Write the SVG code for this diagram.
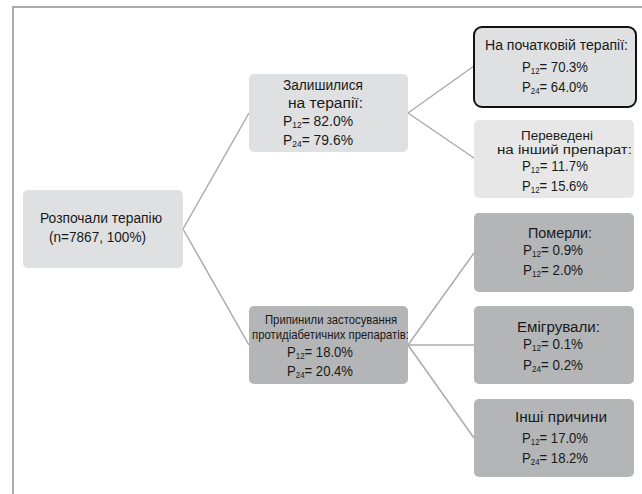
<svg xmlns="http://www.w3.org/2000/svg" width="642" height="494" viewBox="0 0 642 494">
<style>
.frame{fill:none;stroke:#ababab;stroke-width:2}
.conn{fill:none;stroke:#ababab;stroke-width:1.5}
.light{fill:#dfe0e1}
.lighter{fill:#e7e7e8}
.dark{fill:#b3b5b7}
.hl{fill:#dfe0e1;stroke:#111;stroke-width:2}
text{font-family:"Liberation Sans",Arial,sans-serif;font-size:14px;fill:#1a1a1a}
.n{font-size:13px}
.t{font-size:12.5px}
.s{font-size:8.5px}
</style>
<rect width="642" height="494" fill="#fff"/>
<path class="frame" d="M13,494 V7 H642"/>
<g id="connectors">
<line class="conn" x1="183" y1="229" x2="249" y2="113"/>
<line class="conn" x1="183" y1="229" x2="249" y2="345"/>
<line class="conn" x1="408" y1="113" x2="474" y2="66"/>
<line class="conn" x1="408" y1="113" x2="474" y2="158"/>
<line class="conn" x1="408" y1="345" x2="474" y2="253"/>
<line class="conn" x1="408" y1="345" x2="474" y2="345"/>
<line class="conn" x1="408" y1="345" x2="474" y2="438"/>
</g>
<g id="start">
<rect class="light" x="23" y="190" width="160" height="78" rx="5"/>
<text x="40" y="223" textLength="122" lengthAdjust="spacingAndGlyphs">Розпочали терапію</text>
<text x="49" y="242" textLength="97" lengthAdjust="spacingAndGlyphs">(n=7867, 100%)</text>
</g>
<g id="remained">
<rect class="light" x="249" y="74" width="159" height="78" rx="5"/>
<text x="283" y="90" textLength="80" lengthAdjust="spacingAndGlyphs">Залишилися</text>
<text x="288" y="108" textLength="75" lengthAdjust="spacingAndGlyphs">на терапії:</text>
<text x="283" y="126" textLength="70" lengthAdjust="spacingAndGlyphs">P<tspan class="s" dy="2">12</tspan><tspan dy="-2">= 82.0%</tspan></text>
<text x="283" y="145" textLength="70" lengthAdjust="spacingAndGlyphs">P<tspan class="s" dy="2">24</tspan><tspan dy="-2">= 79.6%</tspan></text>
</g>
<g id="stopped">
<rect class="dark" x="249" y="306" width="159" height="78" rx="5"/>
<text class="n" x="265" y="324" textLength="132" lengthAdjust="spacingAndGlyphs">Припинили застосування</text>
<text class="n" x="252" y="339" textLength="157" lengthAdjust="spacingAndGlyphs">протидіабетичних препаратів:</text>
<text x="287" y="357" textLength="66" lengthAdjust="spacingAndGlyphs">P<tspan class="s" dy="2">12</tspan><tspan dy="-2">= 18.0%</tspan></text>
<text x="287" y="376" textLength="66" lengthAdjust="spacingAndGlyphs">P<tspan class="s" dy="2">24</tspan><tspan dy="-2">= 20.4%</tspan></text>
</g>
<g id="initial">
<rect class="hl" x="474" y="27" width="162" height="80" rx="8"/>
<text x="485" y="50" textLength="143" lengthAdjust="spacingAndGlyphs">На початковій терапії:</text>
<text x="522" y="72" textLength="66" lengthAdjust="spacingAndGlyphs">P<tspan class="s" dy="2">12</tspan><tspan dy="-2">= 70.3%</tspan></text>
<text x="522" y="92" textLength="66" lengthAdjust="spacingAndGlyphs">P<tspan class="s" dy="2">24</tspan><tspan dy="-2">= 64.0%</tspan></text>
</g>
<g id="switched">
<rect class="lighter" x="474" y="120" width="160" height="78" rx="5"/>
<text class="t" x="521" y="140" textLength="72" lengthAdjust="spacingAndGlyphs">Переведені</text>
<text class="t" x="497" y="154" textLength="135" lengthAdjust="spacingAndGlyphs">на інший препарат:</text>
<text x="522" y="171" textLength="66" lengthAdjust="spacingAndGlyphs">P<tspan class="s" dy="2">12</tspan><tspan dy="-2">= 11.7%</tspan></text>
<text x="522" y="191" textLength="66" lengthAdjust="spacingAndGlyphs">P<tspan class="s" dy="2">12</tspan><tspan dy="-2">= 15.6%</tspan></text>
</g>
<g id="died">
<rect class="dark" x="474" y="213" width="160" height="79" rx="5"/>
<text x="528" y="238" textLength="64" lengthAdjust="spacingAndGlyphs">Померли:</text>
<text x="523" y="255" textLength="60" lengthAdjust="spacingAndGlyphs">P<tspan class="s" dy="2">12</tspan><tspan dy="-2">= 0.9%</tspan></text>
<text x="523" y="275" textLength="60" lengthAdjust="spacingAndGlyphs">P<tspan class="s" dy="2">12</tspan><tspan dy="-2">= 2.0%</tspan></text>
</g>
<g id="emigrated">
<rect class="dark" x="474" y="306" width="160" height="78" rx="5"/>
<text x="517" y="332" textLength="83" lengthAdjust="spacingAndGlyphs">Емігрували:</text>
<text x="523" y="349" textLength="60" lengthAdjust="spacingAndGlyphs">P<tspan class="s" dy="2">12</tspan><tspan dy="-2">= 0.1%</tspan></text>
<text x="523" y="370" textLength="60" lengthAdjust="spacingAndGlyphs">P<tspan class="s" dy="2">24</tspan><tspan dy="-2">= 0.2%</tspan></text>
</g>
<g id="other">
<rect class="dark" x="474" y="399" width="160" height="78" rx="5"/>
<text x="515" y="422" textLength="92" lengthAdjust="spacingAndGlyphs">Інші причини</text>
<text x="522" y="443" textLength="66" lengthAdjust="spacingAndGlyphs">P<tspan class="s" dy="2">12</tspan><tspan dy="-2">= 17.0%</tspan></text>
<text x="522" y="463" textLength="66" lengthAdjust="spacingAndGlyphs">P<tspan class="s" dy="2">24</tspan><tspan dy="-2">= 18.2%</tspan></text>
</g>
</svg>
